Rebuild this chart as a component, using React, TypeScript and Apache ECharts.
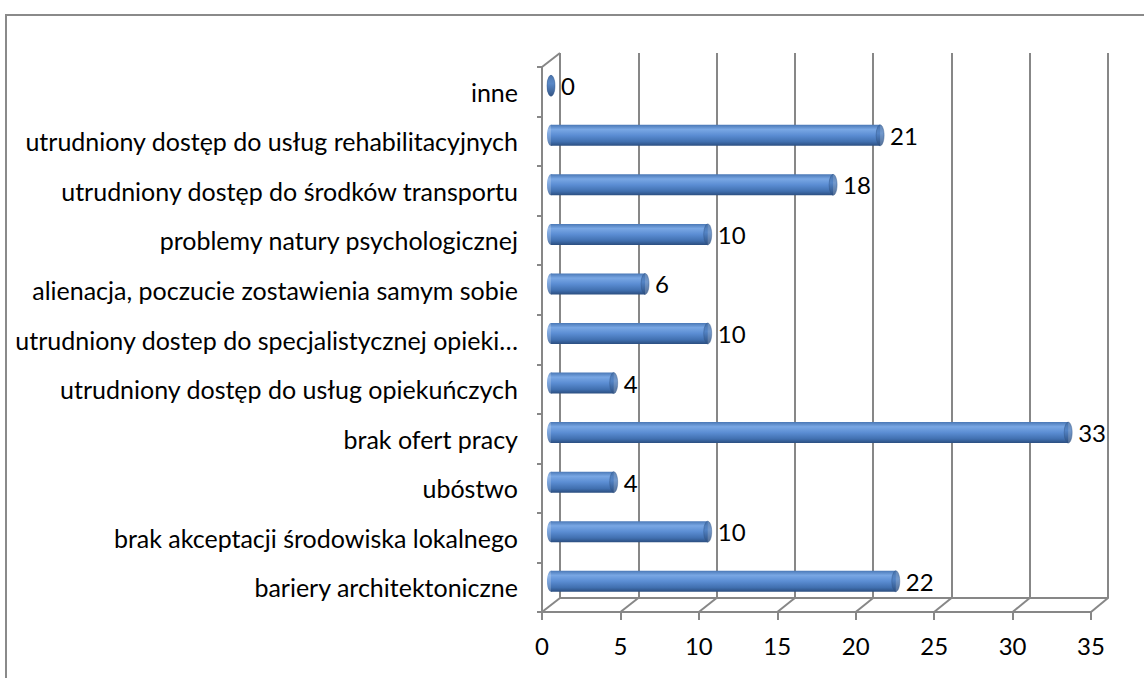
import React, { useEffect, useRef } from "react";
import * as echarts from "echarts";

const categories = [
  "bariery architektoniczne",
  "brak akceptacji środowiska lokalnego",
  "ubóstwo",
  "brak ofert pracy",
  "utrudniony dostęp do usług opiekuńczych",
  "utrudniony dostep do specjalistycznej opieki…",
  "alienacja, poczucie zostawienia samym sobie",
  "problemy natury psychologicznej",
  "utrudniony dostęp do środków transportu",
  "utrudniony dostęp do usług rehabilitacyjnych",
  "inne",
];
const values = [22, 10, 4, 33, 4, 10, 6, 10, 18, 21, 0];
const xTicks = [0, 5, 10, 15, 20, 25, 30, 35];

const W = 1144;
const H = 678;
const FRONT = { left: 542, top: 67, right: W - 1091, bottom: H - 612 };
const BACK = { left: 560, top: 53, right: W - 1108, bottom: H - 598 };
const MID = { left: 551, top: 61, right: W - 1099.5, bottom: H - 606 };
const GRAY = "#878787";
const FONT = "Lato";
const FS = 25;

export default function App() {
  const ref = useRef<HTMLDivElement>(null);
  useEffect(() => {
    if (!ref.current) return;
    const chart = echarts.init(ref.current, undefined, { renderer: "svg" });
    const barGrad = new echarts.graphic.LinearGradient(0, 0, 0, 1, [
      { offset: 0, color: "#4a78b6" },
      { offset: 0.22, color: "#79a7e4" },
      { offset: 0.5, color: "#5b8dd3" },
      { offset: 0.8, color: "#4170b0" },
      { offset: 1, color: "#2b4e80" },
    ]);
    const capGrad = new echarts.graphic.LinearGradient(0, 0, 0, 1, [
      { offset: 0, color: "#3f6aa3" },
      { offset: 0.4, color: "#4f7fc0" },
      { offset: 1, color: "#2b4c7c" },
    ]);
    const xMin = xTicks[0];
    const xMax = xTicks[xTicks.length - 1];
    const step = xTicks[1] - xTicks[0];
    const option: any = {
      animation: false,
      backgroundColor: "#ffffff",
      grid: [
        { ...FRONT, containLabel: false },
        { ...BACK, containLabel: false },
        { ...MID, containLabel: false },
      ],
      xAxis: [
        {
          gridIndex: 0,
          type: "value",
          min: xMin,
          max: xMax,
          interval: step,
          axisLine: { show: true, lineStyle: { color: GRAY, width: 2 } },
          axisTick: { show: true, length: 8, lineStyle: { color: GRAY, width: 2 } },
          axisLabel: { color: "#000", fontFamily: FONT, fontSize: 24, margin: 21 },
          splitLine: { show: false },
        },
        {
          gridIndex: 1,
          type: "value",
          min: xMin,
          max: xMax,
          interval: step,
          axisLine: { show: true, lineStyle: { color: GRAY, width: 2 } },
          axisTick: { show: false },
          axisLabel: { show: false },
          splitLine: { show: true, lineStyle: { color: GRAY, width: 2 } },
        },
        {
          gridIndex: 2,
          type: "value",
          min: xMin,
          max: xMax,
          interval: step,
          show: false,
          splitLine: { show: false },
        },
      ],
      yAxis: [
        {
          gridIndex: 0,
          type: "category",
          data: categories,
          axisLine: { show: true, lineStyle: { color: GRAY, width: 2 } },
          axisTick: { show: true, length: 5, lineStyle: { color: GRAY, width: 2 } },
          axisLabel: { color: "#000", fontFamily: FONT, fontSize: FS, margin: 24 },
        },
        {
          gridIndex: 1,
          type: "category",
          data: categories,
          show: false,
        },
        {
          gridIndex: 2,
          type: "category",
          data: categories,
          show: false,
        },
      ],
      series: [
        {
          type: "scatter",
          xAxisIndex: 2,
          yAxisIndex: 2,
          data: values.map(() => 0),
          symbol: "circle",
          symbolSize: [8, 21],
          itemStyle: { color: barGrad },
          silent: true,
          z: 2,
        },
        {
          type: "bar",
          xAxisIndex: 2,
          yAxisIndex: 2,
          data: values,
          barWidth: 21,
          itemStyle: { color: barGrad },
          label: {
            show: true,
            position: "right",
            distance: 10,
            color: "#000",
            fontFamily: FONT,
            fontSize: 24,
          },
          z: 3,
        },
        {
          type: "scatter",
          xAxisIndex: 2,
          yAxisIndex: 2,
          data: values,
          symbol: "circle",
          symbolSize: [8, 21],
          itemStyle: { color: capGrad, borderColor: "#35598a", borderWidth: 0.5 },
          silent: true,
          z: 4,
        },
      ],
    };
    chart.setOption(option);

    const frontY = H - FRONT.bottom;
    const backY = H - BACK.bottom;
    const lines: any[] = xTicks.map((t) => {
      const fx = chart.convertToPixel({ xAxisIndex: 0 }, t) as number;
      const bx = chart.convertToPixel({ xAxisIndex: 1 }, t) as number;
      return {
        type: "line",
        shape: { x1: fx, y1: frontY, x2: bx, y2: backY },
        style: { stroke: GRAY, lineWidth: 2 },
        silent: true,
      };
    });
    const fx0 = chart.convertToPixel({ xAxisIndex: 0 }, xMin) as number;
    const bx0 = chart.convertToPixel({ xAxisIndex: 1 }, xMin) as number;
    lines.push({
      type: "line",
      shape: { x1: fx0, y1: FRONT.top, x2: bx0, y2: BACK.top },
      style: { stroke: GRAY, lineWidth: 2 },
      silent: true,
    });
    lines.push({
      type: "rect",
      shape: { x: 6, y: 15, width: 1200, height: 700 },
      style: { fill: "none", stroke: "#8a8a8a", lineWidth: 2 },
      silent: true,
    });
    chart.setOption({ graphic: lines });

    return () => chart.dispose();
  }, []);
  return (
    <div
      ref={ref}
      style={{ position: "fixed", left: 0, top: 0, width: W, height: H }}
    />
  );
}
